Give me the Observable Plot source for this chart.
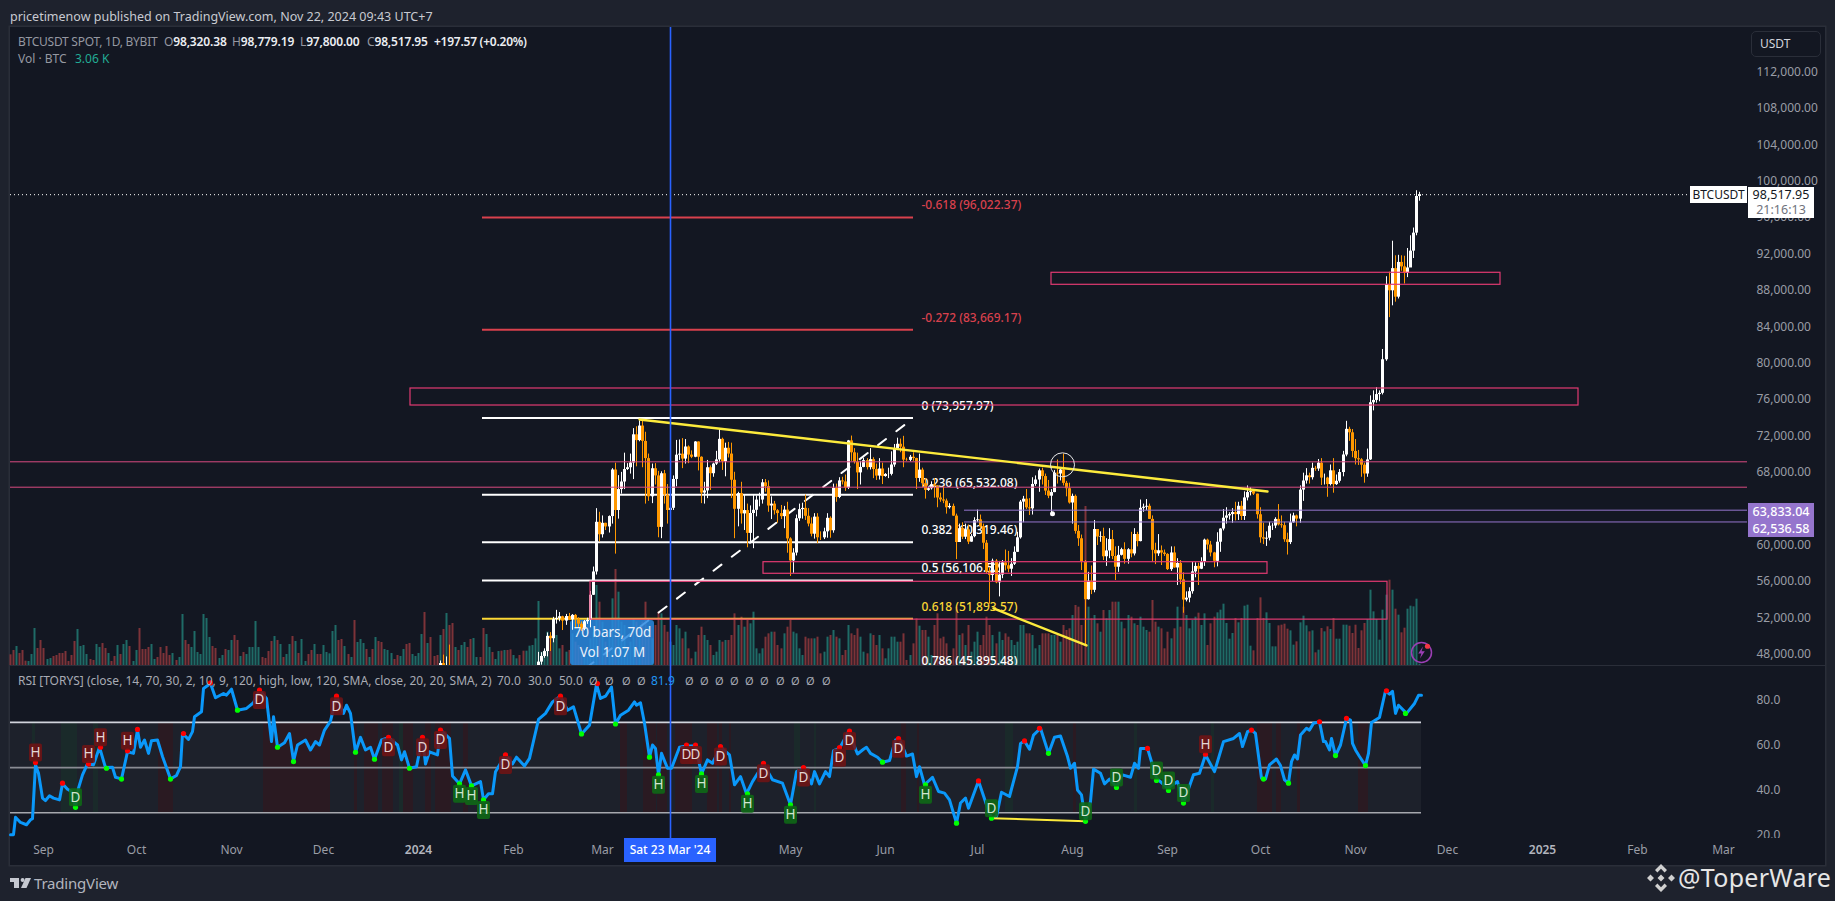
<!DOCTYPE html>
<html><head><meta charset="utf-8">
<script src="https://cdn.jsdelivr.net/npm/d3@7"></script>
<script src="https://cdn.jsdelivr.net/npm/@observablehq/plot@0.6"></script>
<style>
html,body{margin:0;padding:0;background:#1e222d;overflow:hidden}
#page{position:relative;width:1835px;height:901px;background:#1e222d;font-family:"Noto Sans",sans-serif;color:#d1d4dc;font-size:12px}
.abs{position:absolute;white-space:nowrap}
.g{color:#9598a1}.w{color:#eceef2;font-weight:600}
</style></head><body><div id="page"></div>
<script>
// ---------- time helpers: day numbers count from 1 Sep 2023 ----------
const epoch = Date.UTC(2023, 8, 1);
const day = d => new Date(epoch + d * 864e5);

// ---------- daily candles, first bar 8 Jan 2024 (earlier ones sit below the pane) ----------
const firstOpen = 43930;
const closes = [
46970,46110,46630,46340,42780,42840,41730,42500,43150,42740,41260,41620,41660,41580,39500,39880,40080,39930,41820,42120,42030,43300,42940,42580,
43080,43200,42990,42580,42660,43090,44340,45290,47130,47750,48290,49960,49700,51800,51930,52120,51640,52140,51780,52270,51850,51300,50740,51570,51730,54480,57040,62500,61130,
62390,61990,63130,68250,63800,66100,66930,68300,68500,69020,72120,71480,73080,71390,69500,65300,68390,67600,61940,67840,65500,63800,64040,67210,69880,69990,69450,70780,69890,69650,71330,
69650,65710,65950,68500,67840,68900,69360,71620,69150,70640,70000,67120,63930,65660,63420,63790,61280,63470,63820,64940,64940,66840,66410,64290,64500,63770,63460,63120,63840,60670,
58250,59120,62890,63890,64030,63160,62310,61190,63070,60800,60790,61450,62940,61570,66220,65230,67050,66940,66270,71450,70140,69120,67930,68530,69280,68510,69390,68300,67580,68360,67530,
67760,67770,68800,70570,71080,70760,69340,69310,69650,69510,67320,68240,66750,66010,66190,66640,66490,65170,64960,64830,64100,64250,63180,60280,61800,60860,61670,60320,60920,62680,
62770,62020,60200,57040,56660,58230,55850,56700,58040,57720,57340,57890,59200,60790,64720,65040,64090,63980,66660,67150,68160,67530,65930,65370,65770,67900,67810,68250,66780,66190,64620,
65350,61500,60690,58110,53990,56030,55020,61710,60880,60940,58710,59350,60600,58740,57560,58870,59490,58430,59480,59020,61160,60380,64040,64160,64260,62820,59420,59030,59370,59120,58970,
57300,59130,57480,57970,56170,53950,54160,54870,57050,57650,57340,58130,60540,60000,59130,58210,60310,61760,62950,63200,63350,63570,63340,64260,63140,65180,65770,65870,65600,63330,
60800,60650,60750,62070,62090,62820,62220,62130,60580,60270,62450,63200,62850,66040,67040,67610,67400,68430,68360,69000,67360,67360,66650,68160,66640,67010,67970,69900,72720,72340,70290,
69490,69370,68780,67810,69360,75640,75900,76540,76680,80370,88650,87950,90390,87250,91070,90580,89850,90460,92310,94290,98320,98518];
const highs = [
47250,47900,47700,49000,46500,43250,43100,43400,43570,43200,42900,42200,41850,41880,41680,40280,40550,40350,42220,42200,42840,43320,43880,43750,
43300,43430,43380,43120,43500,43400,44520,45600,48200,48160,48590,50330,50370,52050,52820,52580,52170,52370,52480,52360,52370,52000,51540,51700,51950,54900,57580,64000,63600,
63200,62400,63200,68400,69000,67630,67990,70100,68950,70000,72800,73000,73650,73780,72400,70000,68900,68950,68100,68050,68200,66650,65950,67600,71500,71550,71700,71600,70900,70350,71370,
71350,69700,66900,69300,68700,69000,70300,72800,71750,71200,71280,71200,68000,65800,66900,65450,64500,64300,65450,65400,65700,67200,67200,67050,65300,64800,63900,64350,64250,64700,
60800,59600,63300,64500,64600,65500,64000,62980,63450,63450,61450,61850,63450,63100,66700,66700,67400,67450,67700,71500,71980,70600,70100,69200,69550,69500,70600,69600,68900,69500,69000,
67850,68450,70250,71050,71750,71650,71950,69550,69850,70150,69550,70000,68450,67300,66400,66950,67300,66500,65700,66450,65050,64550,64500,63400,62300,62450,62300,62200,61150,63000,
63850,63300,62300,60500,57500,58450,58400,58200,58300,59450,59300,58500,59800,61400,64900,65350,66100,65100,67400,67600,68350,68450,67800,67100,66100,68200,69350,68300,70000,67000,66800,
65600,65500,62150,61100,58300,57000,57700,62700,61700,61450,61850,60700,61800,61600,59800,59850,59650,60250,59600,61400,61800,61400,64950,64500,65000,64500,63200,60200,61150,59900,59450,
59050,59800,59800,58500,58300,56950,54850,55300,58100,58050,58000,58600,60650,60650,60400,59200,61350,61800,63900,64100,63550,64000,64700,64700,64800,65850,66500,66300,66050,65600,
64100,62400,61450,62500,62350,63000,64450,63200,62500,61300,63400,63500,63300,66500,67900,68400,67900,69000,68650,69400,69500,67800,67450,68800,69500,67700,68300,70300,73600,72950,72700,
71600,70400,69500,69000,70550,76400,76950,77300,76950,81500,89500,90000,93400,91800,91850,91800,91750,92600,94000,94850,98950,98780];
const lows = [
43200,44900,44300,45600,41500,42430,41700,41720,42050,42200,40700,40280,41440,41500,39430,38500,39480,39500,39820,41400,41620,41800,42680,42260,
41880,42570,42880,42220,42260,42570,42770,44320,45250,46800,47550,47700,48300,49250,51310,51560,50600,51170,51700,50630,50780,50890,50500,50580,51280,50900,54450,56700,60350,
60770,61600,61320,62300,59000,62850,65600,66100,68200,67800,67200,68600,71350,68500,64500,64800,64550,66600,60800,60700,64500,62300,63000,63800,66400,69300,68400,68900,68950,69500,69600,
68150,64550,64500,65100,66000,67450,68750,69050,68200,67500,69570,65100,60700,62000,62300,61600,59700,60200,59600,63100,64200,64500,65800,63600,62800,63300,62400,62800,61800,59100,
56550,56900,58800,62600,62850,62700,62000,60900,60650,60150,60500,60600,60750,60750,61300,64700,65100,66600,65900,66100,69200,68900,66100,66600,68500,68250,68250,67300,67100,67150,66650,
67450,67300,67600,68550,70400,70150,68500,69200,69150,69200,66100,66900,66300,65050,65900,66050,65150,64100,64700,64550,63400,63950,63150,58400,60300,60600,60600,60050,60300,60800,
62500,61800,59500,56800,53500,56000,55750,54300,56300,57150,56950,56550,57750,59200,60650,62450,63900,63250,63300,66450,65800,66600,65450,65100,63450,65750,66700,67050,66500,65300,64500,
62300,61200,59850,57200,49000,53950,54550,54750,59950,60300,58300,57650,58500,58400,56100,57000,58800,57900,57900,58600,58800,59800,60350,63600,63800,62800,58100,57850,58750,57750,58750,
57200,57100,57450,55550,55650,52500,53750,53650,54600,56400,55550,57300,57650,59450,58700,57500,57600,59200,61550,62300,62750,62400,62650,62700,62700,62700,64850,65400,65450,62850,
60200,60050,59850,60450,61600,61800,62100,61850,60300,58900,60050,62400,62000,62400,64800,66700,66700,67150,68100,68100,66550,66600,65250,66500,65700,66550,66800,67500,69700,71400,69600,
68800,68750,67450,66800,67450,69300,74750,75600,75750,76500,80200,85000,86300,86700,87050,90100,88700,89400,91500,91500,94000,97800];

// ---------- volume, bar heights (arbitrary units), first bar 21 Aug 2023 ----------
const vol2023 = [
32,45,57,36,45,13,12,33,111,51,75,51,18,21,27,30,36,36,42,12,30,72,108,57,60,33,18,15,63,54,
66,51,36,12,27,60,33,63,75,57,12,45,111,48,48,54,63,18,24,54,36,57,30,36,15,24,153,75,63,54,
102,39,33,153,141,84,57,51,21,30,48,45,75,90,75,27,39,33,54,54,132,54,24,21,42,72,87,75,63,24,
33,63,87,72,36,78,12,33,45,63,33,33,60,39,35,102,120,75,78,57,33,24,135,69,78,66,48,24,48,84,
72,69,48,45,36,18,30,27,48,63,66,33,27,36,93,159,66,84,27,30];
const vol2023Dir = ["rrgrrrgggr","rrggrrrrrr","rrggggrrgg","rrgrrgrggr","ggrrrrggrr","rrrgrggrrg","ggggggrrgg","rggrrgrggg","ggrrrrgrgr","ggrgrggrrg","rrgggggrrg","rgrgggrgrg","rrgggrrg","grrggggrgrrr"].join("");
const vol2024 = [
90,108,156,120,126,54,45,60,69,54,78,81,24,24,111,93,54,39,18,42,43,45,45,47,
30,20,30,43,43,58,60,80,192,40,45,100,90,100,90,50,60,40,45,95,70,60,55,35,25,80,100,240,190,
130,70,100,200,288,220,130,120,50,70,140,130,110,130,190,110,80,120,160,155,120,100,70,60,120,110,80,100,50,20,40,
90,115,90,75,60,30,40,75,70,75,75,90,155,120,145,115,135,125,160,50,35,50,85,95,100,100,60,50,95,115,
135,100,95,50,30,85,80,80,80,85,35,40,85,90,105,85,80,30,45,120,95,90,110,85,40,35,95,90,60,90,50,
20,50,85,85,70,70,95,15,30,65,140,118,105,105,85,30,120,155,80,85,65,20,50,175,90,95,60,120,40,70,
100,60,90,145,120,90,65,100,75,95,85,75,60,70,120,120,95,95,90,50,60,95,95,95,90,90,90,70,120,105,110,
150,180,175,120,477,175,140,150,125,100,165,140,165,190,190,190,130,110,150,145,125,120,145,115,105,100,195,130,115,110,50,
100,80,110,175,115,175,150,110,135,145,157,120,155,60,125,145,
158,166,184,126,79,96,141,128,141,178,181,58,44,141,203,141,158,126,56,56,119,121,124,109,104,61,71,128,148,119,
101,104,38,46,111,101,116,108,141,79,79,121,121,118,96,121,51,104,126,138,226,161,138,76,166,211,256,226,169,151,98,112,169,178,176,199,4];

// ---------- RSI line: vertices ----------
const rsiDay = [-10.9,-10,-9.3,-7.7,-5.8,-4.5,-3.6,-2.6,-1.7,-0.6,0.6,1.9,3.2,4.9,6,7.7,9,10.3,11.3,12.5,14.2,16.1,18,20,22.3,23.2,25.4,27.3,29.2,30.3,31.3,32.8,34.1,35,37,38.6,41.2,43.1,44.4,45.1,47,48.3,48.9,51.2,52.1,54.3,56,58.6,59.5,60.9,63.1,65.9,68.2,70.2,72.4,74,74.9,76,78.3,79.8,81.4,82.4,85,86.9,88.5,89.7,91.4,93.3,95.3,97.6,98.5,99.8,101.3,103,104.7,106.2,107.5,110,112.3,115,116.5,117.4,119.1,121.3,123.4,124.2,125.5,128.1,129.1,132,133,135.2,137.4,139.3,142,143.2,144.8,146.1,147,150.4,152.6,153.9,156.4,158.1,160.9,163.3,165.5,168.3,170.6,172.3,175.1,177.7,180,181.3,182.8,184.8,186.2,187.7,
190.3,192.2,193.1,194.1,195.4,197.1,198,199,200.2,201,202.9,204.2,207,209.3,212.2,214.1,216,217.6,220.3,223.1,225,226.7,228.9,230.8,234.3,237.3,240.5,243.1,245,247.2,249.9,251,252.5,254.6,255.9,257.2,259.2,262.1,265,266.9,267.8,269.2,271.4,273,275.2,277.2,278.5,280.7,282.7,284,285.2,286.8,289.4,291.3,293.3,294.8,297.1,298.4,300,301,304.2,306.8,308.4,310,311.9,314.5,317.1,318,319.3,321,322.2,324.4,327,329,331,333.2,334.2,335.4,336.4,337.7,339.2,340.9,341.9,344.1,345.4,347.1,349.3,351.2,353.8,355.1,356.4,357,359.3,362.2,366,369.2,371.2,374.4,376.3,378.2,381.2,
384,387.3,389.2,390.3,391.8,393.3,394.4,396.3,397.6,399.1,401.2,402.7,404,405.3,406.2,407.2,408.2,409.2,411.1,412.1,413.4,415.4,416.5,417.3,418.5,419.1,420.4,422.1,424.2,425.3,426.2,427.2,428.5,430.4,431.3,432.4,435,436.9,438.2,439.1,440.2,441.1,443.6,446.3,447.6,448.5];
const rsiVal = [20.3,20.3,28,25.7,24.7,26.9,27.4,51.2,47.5,36.5,35.4,37.5,36.5,35.7,42.8,40.4,39.4,32.4,40.9,46.8,51.6,51.2,59,50,50.1,45.7,45,57,56.3,66.6,59,62.2,56.3,61.9,62.2,54.9,45,46.5,50.4,65.1,62.5,65.9,72.5,74.7,85,87.2,80.9,82.8,82.1,84.7,75.4,76.2,78.7,84.3,80.6,61.5,72.5,59,61,65.1,52.9,60,62.2,57.8,61.5,60,66.6,70.6,81.6,74,77.6,74,56.8,63.4,57.8,59,53.7,62.2,63.2,60,53.4,57,49.7,50.4,63.4,51.6,57,55.6,66.6,62.9,46.3,42.8,49,41.9,43.8,35.7,38.4,38.4,48.2,55.6,51.6,54.6,50.7,54.1,71.3,74,79.1,81.6,75.4,76.9,64.9,68.8,86.9,80.6,81.6,85.7,69.3,73.2,
75.4,79.1,77.6,78.7,69.6,54.6,60,58.5,46.8,56.3,49.7,49.7,59,59.6,59.6,47.2,53.4,51.9,59,55.6,42.4,46,38.4,43.8,51.6,44.6,43.1,33.5,48.2,49.7,42.8,48.2,42.8,48.2,46,57.5,58.5,65.9,56,58.1,59,56.3,54.6,52.4,53.1,62.2,62.5,55.1,56,46,50.4,42.4,45.7,39.4,38.7,35.7,25.4,34.3,36.5,32,44.1,33.5,27.6,28.4,39.1,37.2,50.4,60.7,61.8,58.1,64.4,67.4,56.3,63.4,64,54.9,49.7,51.9,40.1,37.9,26.2,35,49.3,47.5,42.8,44.9,41.6,46.8,45.7,51.9,49.7,58.5,58.5,45.3,40.9,43.8,34.3,46.8,47.5,55.6,48.2,
61.5,62.9,65.1,59.3,65.9,66.6,65.1,45.3,44.9,51.2,53.8,50.9,44.6,43.1,52.6,55.6,53.8,64.4,67.4,66.6,69.6,70.3,61.5,61.5,57.8,62.9,55.3,60,71.8,71,60.7,57.8,54.9,50.9,56.3,70,72.2,84,82.5,83.8,74,77.6,74,78.4,82,82];

// ---------- RSI pivots ("" = dot only) ----------
const topDay = [-2.6,6,14.4,18.3,27.3,30.3,45.3,54.3,70.2,95.3,112.3,123.3,129.1,150.4,168.3,180.2,209.3,212.2,220.3,234.3,247.2,259.2,262.4,278.2,304.2,319.3,324.2,359.3,378.2,393.3,415.4,424.2,437.3];
const topVal = [52.2,43.1,51.6,59,57.4,66.9,65.1,87.5,84.3,81.6,63.4,63.4,66.6,55.6,81.6,87.2,60,60,59.3,51.9,50,58.8,66.2,62.8,44.1,61.8,67.4,58.5,55.9,66.6,70.3,71.8,84];
const topTag = ["H","","H","H","H","","","","D","D","D","D","D","D","D","","D","D","D","D","D","D","D","D","","","","","H","","","",""];
const botDay = [10.3,20.2,25.4,41.2,63.1,76,81.4,101.3,107.5,119.1,135.2,139.3,143.2,175.1,186.2,197.1,200.2,214.1,229.2,243.1,273,287.1,297.1,308.4,327.1,339.2,349.3,362.4,366.3,371.2,397.2,405.3,420.4,430.4,443.4];
const botVal = [32.4,49.7,44.9,44.9,75.4,59,52.6,56.8,53.7,49.7,42.8,41.9,35.7,64.9,69.3,54.6,46.8,47.2,38.4,33.5,52.4,42.4,25.4,27.6,56.3,26.2,41.2,44.3,39.9,34.3,44.9,43.1,55.3,50.9,74];
const botTag = ["D","","","","","","","","","","H","H","H","","","","H","H","H","H","","H","","D","","D","D","D","D","D","","","","",""];

// ---------- RSI background bands [from day, to day] ----------
const redBands = [[37.3,42.1],[71.5,93.3],[101,102.1],[104.3,109],[110.1,113.9],[117.2,120.4],[124.2,126.2],[127.5,132.6],[136.7,138.2],[187.7,190],[195.2,199.5],[199.9,203.1],[205.7,211.1],[216,219.2],[219.9,220.9],[223.1,224],[279.1,281],[284.3,285.2],[335.1,336.1],[395,399.9],[401.2,403.1],[408.2,409.2],[428.1,431.3]];
const greenBands = [[-3.6,-2.6],[5.8,10.9],[16.1,17.8],[115.9,117.2],[244.4,246.3],[250.8,251.4],[313.2,315.8],[355.1,356.1],[380.2,381.1]];
const rsiLevels = [70,50,30];
const rsiLevelColor = ["#d1d4dc","#8a8c94","#a6a8ae"];
const rsiTicks = [20,40,60,80];

// ---------- drawings on the price pane ----------
const priceTicks = [48,52,56,60,64,68,72,76,80,84,88,92,96,100,104,108,112].map(k => k * 1000);
const fibRatio = ["-0.618","-0.272","0","0.236","0.382","0.5","0.618","0.786"];
const fibPrice = [96022.37,83669.17,73957.97,65532.08,60319.46,56106.5,51893.57,45895.48];
const fibLabel = ["96,022.37","83,669.17","73,957.97","65,532.08","60,319.46","56,106.52","51,893.57","45,895.48"];
const fibColor = ["#d9414d","#d9414d","#ffffff","#ffffff","#ffffff","#ffffff","#fdd835","#ffffff"];
const zoneDay1 = [119.2, 328, 234.3, 178];
const zoneDay2 = [499.7, 474.4, 398.3, 437.4];
const zoneHigh = [77210, 89930, 58115, 55960];
const zoneLow  = [75340, 88610, 56840, 51800];
const pinkLevels = [69150, 66360];
const purpleLevels = [63833.04, 62536.58];
const lastPrice = 98517.95;
const cursorDay = 204;

const fmtPrice = d3.format(",.2f");

const candles = closes.map((c, i) => {
  const open = i ? closes[i - 1] : firstOpen;
  return {date: day(129 + i), open, close: c, high: highs[i], low: lows[i], up: c >= open};
});
const volumes = [
  ...vol2023.map((v, i) => ({date: day(-11 + i), v, up: vol2023Dir[i] === "g"})),
  ...vol2024.map((v, i) => ({date: day(129 + i), v, up: candles[i] ? candles[i].up : true}))
];
const rsi = rsiDay.map((d, i) => ({date: day(d), v: rsiVal[i]}));
const pivots = [
  ...topDay.map((d, i) => ({date: day(d), v: topVal[i], tag: topTag[i], top: true})),
  ...botDay.map((d, i) => ({date: day(d), v: botVal[i], tag: botTag[i], top: false}))
];
const tagged = pivots.filter(p => p.tag);

// ---------- shared layout ----------
const W = 1835, fl = 10, fr = 1747;
const xOpt = {type: "utc", domain: [day(-10.9), day(554.7)], range: [fl, fr], round: true, axis: null};
const base = {width: W, marginLeft: fl, marginRight: W - fr, marginTop: 0, marginBottom: 0,
  style: {background: "transparent", overflow: "hidden", fontFamily: '"Noto Sans",sans-serif'}};
const axisColor = "#9a9da6";
const priceDomain = [46757, 116897];

const roundedBox = {draw(c, size) {
  const r = Math.sqrt(size / Math.PI), h = r, w = r * 0.72, k = 2;
  c.moveTo(-w + k, -h); c.lineTo(w - k, -h); c.arcTo(w, -h, w, -h + k, k);
  c.lineTo(w, h - k); c.arcTo(w, h, w - k, h, k); c.lineTo(-w + k, h);
  c.arcTo(-w, h, -w, h - k, k); c.lineTo(-w, -h + k); c.arcTo(-w, -h, -w + k, -h, k); c.closePath();
}};
const bolt = {draw(c, size) {
  const r = Math.sqrt(size / Math.PI);
  [[.25,-1],[-.55,.15],[-.02,.15],[-.25,1],[.55,-.22],[.02,-.22]].forEach(([x,y],i) => i ? c.lineTo(x*r,y*r) : c.moveTo(x*r,y*r));
  c.closePath();
}};

// ---------- volume layer ----------
const volPlot = Plot.plot({...base, height: 638, x: xOpt,
  y: {domain: [0, 638 * 3], range: [638, 0], axis: null},
  marks: [
    Plot.ruleX(volumes, {x: "date", y1: 0, y2: "v", stroke: d => d.up ? "#1f6b66" : "#7d3338", strokeWidth: 2})
  ]});

// ---------- price layer ----------
const pD = d => day(d);
const pricePlot = Plot.plot({...base, height: 638, x: xOpt,
  y: {domain: priceDomain, range: [638, 0]},
  marks: [
    Plot.axisY({anchor: "right", ticks: priceTicks, tickFormat: fmtPrice, tickSize: 0, tickPadding: 9, fontSize: 12, color: axisColor, label: null}),
    // fib levels
    Plot.ruleY(fibPrice.map((p, i) => ({p, c: fibColor[i]})), {y: "p", x1: pD(142.8), x2: pD(283.1), stroke: "c", strokeWidth: 2, clip: true}),
    Plot.text(fibPrice.map((p, i) => ({p, c: fibColor[i], t: `${fibRatio[i]} (${fibLabel[i]})`})),
      {x: pD(285.7), y: "p", text: "t", fill: "c", dy: -12, textAnchor: "start", fontSize: 12, fontWeight: 500, clip: true}),
    // dashed fib connector, then the measure box over it
    Plot.line([[pD(176.3), 46440], [pD(283.1), 73958]], {x: "0", y: "1", stroke: "#fff", strokeWidth: 2, strokeDasharray: "10,13", clip: true}),
    Plot.rect([{}], {x1: pD(171.4), x2: pD(198.8), y1: 46757, y2: 51704, fill: "#2a8ae2", fillOpacity: 0.85, rx: 3}),
    // candles
    Plot.ruleX(candles, {x: "date", y1: "low", y2: "high", stroke: d => d.up ? "#ffffff" : "#ff9800", strokeWidth: 1, clip: true}),
    Plot.ruleX(candles, {x: "date", y1: "open", y2: "close", stroke: d => d.up ? "#ffffff" : "#ff9800", strokeWidth: 3, clip: true}),
    // horizontal levels and zones
    Plot.ruleY(pinkLevels, {stroke: "#d94a80", strokeWidth: 1}),
    Plot.ruleY(purpleLevels, {x1: pD(299.8), x2: pD(554.7), stroke: "#9575cd", strokeWidth: 1}),
    Plot.rect(zoneHigh.map((h, i) => ({x1: pD(zoneDay1[i]), x2: pD(zoneDay2[i]), y1: zoneLow[i], y2: h})),
      {x1: "x1", x2: "x2", y1: "y1", y2: "y2", fill: "none", stroke: "#e23a72", strokeWidth: 1.2}),
    // trend lines
    Plot.line([[pD(193.9), 73800], [pD(398.4), 65885]], {x: "0", y: "1", stroke: "#fdeb3c", strokeWidth: 2.4}),
    Plot.line([[pD(309.2), 53025], [pD(339.5), 48960]], {x: "0", y: "1", stroke: "#fdeb3c", strokeWidth: 2.4}),
    // highlight circle and its dot
    Plot.dot([{}], {x: pD(331.6), y: 68820, r: 12, stroke: "#e8e8e8", strokeWidth: 1, fill: "none"}),
    Plot.dot([{}], {x: pD(328.3), y: 63435, r: 2.5, fill: "#fff"}),
    // last price line
    Plot.ruleY([lastPrice], {x1: pD(-10.9), x2: pD(536), stroke: "#fff", strokeWidth: 1, strokeDasharray: "1,3"}),
    // cursor
    Plot.ruleX([day(cursorDay)], {stroke: "#2962ff", strokeWidth: 1.6}),
    // measure text
    Plot.text(["70 bars, 70d"], {x: pD(185.1), y: 50390, fill: "#e9f1fb", fontSize: 13.5}),
    Plot.text(["Vol 1.07 M"], {x: pD(185.1), y: 48220, fill: "#e9f1fb", fontSize: 13.5}),
    // flash icon
    Plot.dot([{}], {x: pD(448.4), y: 48186, r: 10, stroke: "#9c3fb5", strokeWidth: 1.5, fill: "none"}),
    Plot.dot([{}], {x: pD(448.4), y: 48186, r: 6, symbol: bolt, fill: "#9c3fb5"}),
    Plot.dot([{}], {x: pD(450.5), y: 48876, r: 2.6, fill: "#f23645"})
  ]});

// ---------- RSI layer ----------
const rsiPlot = Plot.plot({...base, height: 173, x: xOpt,
  y: {domain: [18.6, 95.2], range: [173, 0]},
  marks: [
    Plot.axisY({anchor: "right", ticks: rsiTicks, tickFormat: d3.format(".1f"), tickSize: 0, tickPadding: 9, fontSize: 12, color: axisColor, label: null}),
    Plot.rect([{}], {x1: day(-10.9), x2: day(448.5), y1: 30, y2: 70, fill: "#1d212b"}),
    Plot.rect(redBands, {x1: d => day(d[0]), x2: d => day(d[1]), y1: 30, y2: 70, fill: "#2a1a22"}),
    Plot.rect(greenBands, {x1: d => day(d[0]), x2: d => day(d[1]), y1: 30, y2: 70, fill: "#1a2a2a"}),
    Plot.ruleY(rsiLevels.map((v, i) => ({v, c: rsiLevelColor[i]})), {y: "v", x1: day(-10.9), x2: day(448.5), stroke: "c", strokeWidth: 1.6}),
    Plot.ruleX([day(cursorDay)], {stroke: "#2962ff", strokeWidth: 1.6}),
    Plot.line(rsi, {x: "date", y: "v", stroke: "#0a98fa", strokeWidth: 3, strokeLinejoin: "round"}),
    Plot.line([[day(308.4), 27.6], [day(339.2), 26.2]], {x: "0", y: "1", stroke: "#fdeb3c", strokeWidth: 2}),
    Plot.dot(pivots, {x: "date", y: "v", r: 2.6, fill: d => d.top ? "#ff0000" : "#00ff00"}),
    Plot.dot(tagged.filter(p => p.top && p.tag === "H"), {x: "date", y: "v", dy: -10, r: 9, symbol: roundedBox, fill: "#6f1315", fillOpacity: 0.88}),
    Plot.dot(tagged.filter(p => p.top && p.tag === "D"), {x: "date", y: "v", dy: 10, r: 9, symbol: roundedBox, fill: "#6f1315", fillOpacity: 0.88}),
    Plot.dot(tagged.filter(p => !p.top && p.tag === "D"), {x: "date", y: "v", dy: -10, r: 9, symbol: roundedBox, fill: "#0f6a16", fillOpacity: 0.88}),
    Plot.dot(tagged.filter(p => !p.top && p.tag === "H"), {x: "date", y: "v", dy: 10, r: 9, symbol: roundedBox, fill: "#0f6a16", fillOpacity: 0.88}),
    ...[["H",true,-10,"#e3d6d6"],["D",true,10,"#e3d6d6"],["D",false,-10,"#d2e6d2"],["H",false,10,"#d2e6d2"]].map(([t,top,dy,fill]) =>
      Plot.text(tagged.filter(p => p.top === top && p.tag === t), {x: "date", y: "v", text: "tag", dy, fill, fontSize: 13.5}))
  ]});

// ---------- time axis ----------
const monthTicks = [[2023,8],[2023,9],[2023,10],[2023,11],[2024,1],[2024,2],[2024,4],[2024,5],[2024,6],[2024,7],[2024,8],[2024,9],[2024,10],[2024,11],[2025,1],[2025,2]].map(([y, m]) => new Date(Date.UTC(y, m, 1)));
const yearTicks = [new Date(Date.UTC(2024, 0, 1)), new Date(Date.UTC(2025, 0, 1))];
const axisPlot = Plot.plot({...base, height: 27, marginBottom: 22, x: {...xOpt, axis: undefined},
  marks: [
    Plot.axisX({ticks: monthTicks, tickFormat: d3.utcFormat("%b"), tickSize: 0, tickPadding: 2, fontSize: 12, color: axisColor, label: null}),
    Plot.axisX({ticks: yearTicks, tickFormat: d3.utcFormat("%Y"), tickSize: 0, tickPadding: 2, fontSize: 12, fontWeight: 600, color: "#b2b5be", label: null})
  ]});

// ---------- assembling the page ----------
const page = document.getElementById("page");
const el = (css, html, cls) => {
  const d = document.createElement("div");
  d.className = "abs " + (cls || ""); d.style.cssText = css; d.innerHTML = html; page.appendChild(d); return d;
};
el("left:10px;top:27px;width:1815px;height:838px;background:#131722;box-shadow:0 0 0 1.5px #2a2e39", "");
el("left:10px;top:665px;width:1815px;height:1px;background:#2a2e39", "");
const place = (p, top) => { p.style.position = "absolute"; p.style.left = "0"; p.style.top = top + "px"; page.appendChild(p); };
place(volPlot, 27); place(pricePlot, 27); place(rsiPlot, 665); place(axisPlot, 838);

const yP = v => 27 + pricePlot.scale("y").apply(v);
const xP = d => pricePlot.scale("x").apply(d);

// header
el("left:10px;top:8px;font-size:12.5px;line-height:18px;color:#c8cad1", "pricetimenow published on TradingView.com, Nov 22, 2024 09:43 UTC+7");

// one legend row of separately placed tokens
const row = (top, tokens) => tokens.forEach(([x, html, extra]) =>
  el(`left:${x}px;top:${top}px;font-size:12px;line-height:17px;${extra || ""}`, html));
row(33, [
  [18, '<span class="g">BTCUSDT SPOT, 1D, BYBIT</span>', "letter-spacing:-.25px"],
  [164, '<span class="g">O</span><span class="w">98,320.38</span>', "letter-spacing:-.15px"],
  [232, '<span class="g">H</span><span class="w">98,779.19</span>', "letter-spacing:-.15px"],
  [300, '<span class="g">L</span><span class="w">97,800.00</span>', "letter-spacing:-.15px"],
  [367, '<span class="g">C</span><span class="w">98,517.95</span>', "letter-spacing:-.15px"],
  [434, '<span class="w">+197.57 (+0.20%)</span>', "letter-spacing:-.25px"]
]);
row(50, [
  [18, '<span class="g">Vol · BTC</span>'],
  [75, '<span style="color:#22ab94">3.06 K</span>']
]);
const rsiLegendColor = "color:#a8abb4";
row(672, [
  [18, "RSI [TORYS] (close, 14, 70, 30, 2, 10, 9, 120, high, low, 120, SMA, close, 20, 20, SMA, 2)", rsiLegendColor],
  [497, "70.0", rsiLegendColor], [528, "30.0", rsiLegendColor], [559, "50.0", rsiLegendColor],
  ...[589,605,622,637,685,700,715,730,745,760,776,791,806,822].map(x => [x, "Ø", rsiLegendColor + ";font-size:11px"]),
  [651, "81.9", "color:#2196f3"]
]);

// price axis tags
const lastY = yP(lastPrice);
el(`left:1690px;top:${lastY-8.5}px;width:57px;height:17px;background:#fff;color:#131722;text-align:center;font-size:12px;line-height:17px`, "BTCUSDT");
el(`left:1748px;top:${lastY-7}px;width:66px;height:31px;background:#fff;color:#131722;text-align:center;font-size:12.5px;line-height:15px`,
   '98,517.95<br><span style="color:#70737c">21:16:13</span>');
el(`left:1748px;top:503px;width:66px;height:34px;background:#9575cd;color:#fff;text-align:center;font-size:12.5px;line-height:17px;font-weight:500`, "63,833.04<br>62,536.58");

// cursor date tag
const cursorX = xP(day(cursorDay));
el(`left:${cursorX-46}px;top:838px;width:92px;height:24px;background:#2962ff;color:#fff;text-align:center;font-size:12px;line-height:24px;font-weight:500`, "Sat 23 Mar '24");

// currency button
el("left:1751px;top:31px;width:70px;height:26px;box-sizing:border-box;border:1.5px solid #2a2e39;border-radius:5px;color:#d1d4dc;font-size:12px;line-height:23px;padding-left:8px", "USDT");

// TradingView mark
el("left:10px;top:876px;width:22px;height:14px", '<svg width="22" height="14" viewBox="0 0 22 14"><path d="M0 2h9v10H4V6H0z" fill="#c5c8d0"/><circle cx="12.6" cy="4" r="2" fill="#c5c8d0"/><path d="M15.5 2H21l-4.5 10H11z" fill="#c5c8d0"/></svg>');
el("left:34px;top:873px;font-size:15px;line-height:20px;color:#b2b5be;letter-spacing:-.2px", "TradingView");

// watermark
el("left:1646px;top:863px;width:30px;height:30px", '<svg width="30" height="30" viewBox="-15 -15 30 30" fill="#d0d0d0"><path d="M0-14 6-8 3.6-5.6 0-9.2-3.6-5.6-6-8zM0 14 6 8 3.6 5.6 0 9.2-3.6 5.6-6 8zM-14 0-10.5-3.5-7 0-10.5 3.5zM14 0 10.5-3.5 7 0 10.5 3.5zM0-3.5 3.5 0 0 3.5-3.5 0z"/></svg>');
el("left:1678px;top:860px;font-size:25px;line-height:34px;color:#e6e6e6;letter-spacing:.3px", "@ToperWare");
</script></body></html>
